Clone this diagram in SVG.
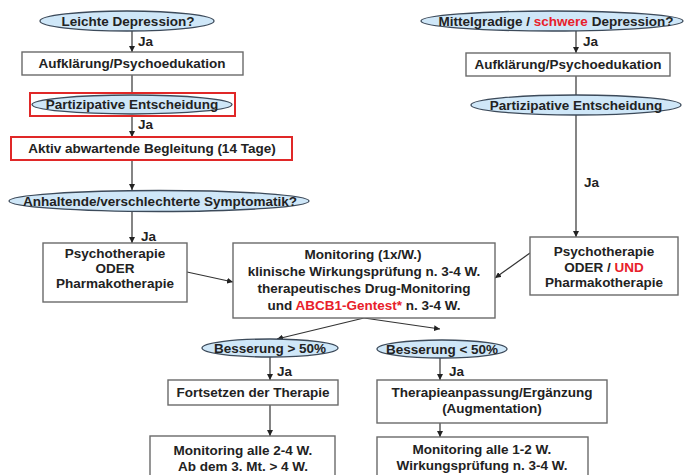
<svg xmlns="http://www.w3.org/2000/svg" width="686" height="475" viewBox="0 0 686 475">
<style>
text{font-family:"Liberation Sans",Arial,sans-serif;font-weight:bold;font-size:13.5px;fill:#222;text-anchor:middle}
.j{text-anchor:start}
.r{fill:#e8202a}
.box{fill:#fff;stroke:#6a6a6a;stroke-width:1.4}
.red{fill:none;stroke:#e02828;stroke-width:2}
.ell{fill:#cfe7f8;stroke:#3c4a5a;stroke-width:1.3}
.c{stroke:#333;stroke-width:1.2;fill:none}
</style>
<defs>
<marker id="a" viewBox="0 0 6 6" refX="6" refY="3" markerWidth="5" markerHeight="5" orient="auto"><path d="M0,0L6,3L0,6z" fill="#222"/></marker>
</defs>
<rect width="686" height="475" fill="#fff"/>
<g id="connectors">
<line class="c" x1="132" y1="31" x2="132" y2="52" marker-end="url(#a)"/>
<line class="c" x1="132" y1="75" x2="132" y2="93"/>
<line class="c" x1="132" y1="116" x2="132" y2="137" marker-end="url(#a)"/>
<line class="c" x1="132" y1="160" x2="132" y2="190" marker-end="url(#a)"/>
<line class="c" x1="132" y1="211" x2="132" y2="243" marker-end="url(#a)"/>
<line class="c" x1="187" y1="272" x2="233" y2="282" marker-end="url(#a)"/>
<line class="c" x1="576" y1="31" x2="576" y2="53" marker-end="url(#a)"/>
<line class="c" x1="576" y1="76" x2="576" y2="95"/>
<line class="c" x1="576" y1="115" x2="576" y2="237" marker-end="url(#a)"/>
<line class="c" x1="530" y1="253" x2="495" y2="278" marker-end="url(#a)"/>
<line class="c" x1="364" y1="318" x2="277" y2="339" marker-end="url(#a)"/>
<line class="c" x1="364" y1="318" x2="440" y2="329" marker-end="url(#a)"/>
<line class="c" x1="270" y1="357" x2="270" y2="380" marker-end="url(#a)"/>
<line class="c" x1="270" y1="405" x2="270" y2="436" marker-end="url(#a)"/>
<line class="c" x1="440" y1="358" x2="440" y2="380" marker-end="url(#a)"/>
<line class="c" x1="440" y1="423" x2="440" y2="437" marker-end="url(#a)"/>
<text class="j" x="138" y="46">Ja</text>
<text class="j" x="138" y="129">Ja</text>
<text class="j" x="141" y="241">Ja</text>
<text class="j" x="583" y="46">Ja</text>
<text class="j" x="584" y="187">Ja</text>
<text class="j" x="277" y="376">Ja</text>
<text class="j" x="449" y="376">Ja</text>
</g>
<g id="n1"><ellipse class="ell" cx="127" cy="21" rx="87" ry="10"/><text x="128" y="25.5">Leichte Depression?</text></g>
<g id="n2"><rect class="box" x="22" y="52" width="221" height="23"/><text x="132" y="68">Aufklärung/Psychoedukation</text></g>
<g id="n3"><rect class="red" x="30" y="93" width="205" height="23"/><ellipse class="ell" cx="132" cy="104.5" rx="100" ry="9.5"/><text x="132" y="109">Partizipative Entscheidung</text></g>
<g id="n4"><rect class="red" x="11" y="137" width="281" height="23"/><text x="152" y="153">Aktiv abwartende Begleitung (14 Tage)</text></g>
<g id="n5"><ellipse class="ell" cx="159" cy="201" rx="150" ry="10.5"/><text x="160" y="205.5">Anhaltende/verschlechterte Symptomatik?</text></g>
<g id="n6"><rect class="box" x="43" y="243" width="144" height="59"/><text x="115" y="258">Psychotherapie</text><text x="115" y="273">ODER</text><text x="115" y="288">Pharmakotherapie</text></g>
<g id="n7"><rect class="box" x="233" y="243" width="262" height="75"/><text x="363" y="259">Monitoring (1x/W.)</text><text x="364" y="276">klinische Wirkungsprüfung n. 3-4 W.</text><text x="364" y="293">therapeutisches Drug-Monitoring</text><text x="364" y="310">und <tspan class="r">ABCB1-Gentest*</tspan> n. 3-4 W.</text></g>
<g id="n8"><ellipse class="ell" cx="552" cy="21" rx="131" ry="10"/><text x="556" y="25.5">Mittelgradige / <tspan class="r">schwere</tspan> Depression?</text></g>
<g id="n9"><rect class="box" x="466" y="53" width="204" height="23"/><text x="568" y="69">Aufklärung/Psychoedukation</text></g>
<g id="n10"><ellipse class="ell" cx="576" cy="105" rx="105" ry="10"/><text x="576" y="109.5">Partizipative Entscheidung</text></g>
<g id="n11"><rect class="box" x="530" y="237" width="148" height="58"/><text x="604" y="256">Psychotherapie</text><text x="604" y="272">ODER / <tspan class="r">UND</tspan></text><text x="604" y="287">Pharmakotherapie</text></g>
<g id="n12"><ellipse class="ell" cx="270" cy="348" rx="68" ry="9"/><text x="270" y="352.5">Besserung &gt; 50%</text></g>
<g id="n13"><ellipse class="ell" cx="442" cy="349" rx="65" ry="9"/><text x="442" y="353.5">Besserung &lt; 50%</text></g>
<g id="n14"><rect class="box" x="168" y="380" width="170" height="25"/><text x="253" y="397">Fortsetzen der Therapie</text></g>
<g id="n15"><rect class="box" x="377" y="380" width="230" height="43"/><text x="492" y="397">Therapieanpassung/Ergänzung</text><text x="492" y="413">(Augmentation)</text></g>
<g id="n16"><rect class="box" x="150" y="436" width="185" height="45"/><text x="243" y="455">Monitoring alle 2-4 W.</text><text x="243" y="471">Ab dem 3. Mt. &gt; 4 W.</text></g>
<g id="n17"><rect class="box" x="377" y="437" width="211" height="45"/><text x="482" y="454">Monitoring alle 1-2 W.</text><text x="482" y="470">Wirkungsprüfung n. 3-4 W.</text></g>
</svg>
